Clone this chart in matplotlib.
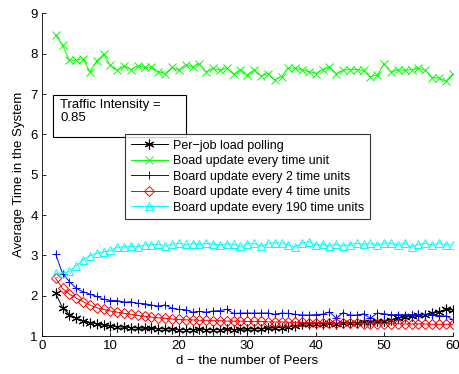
import matplotlib
matplotlib.use("Agg")
import matplotlib.pyplot as plt
from matplotlib.patches import Rectangle

plt.rcParams['font.family'] = ['Liberation Sans', 'DejaVu Sans']

# number of peers
d = list(range(2, 61))

# average time in system, one list per policy
per_job = [2.06, 1.70, 1.53, 1.44, 1.38, 1.33, 1.30, 1.27, 1.25,
           1.23, 1.22, 1.21, 1.20, 1.19, 1.19, 1.18, 1.18, 1.17, 1.16,
           1.16, 1.16, 1.17, 1.16, 1.16, 1.16, 1.17, 1.16, 1.17, 1.17,
           1.18, 1.18, 1.19, 1.20, 1.21, 1.23, 1.25, 1.30, 1.30, 1.31,
           1.31, 1.32, 1.31, 1.32, 1.33, 1.33, 1.35, 1.34, 1.36, 1.37,
           1.40, 1.44, 1.47, 1.49, 1.52, 1.53, 1.56, 1.60, 1.66, 1.65]
every_1 = [8.46, 8.21, 7.84, 7.84, 7.88, 7.55, 7.82, 7.99, 7.71,
           7.59, 7.70, 7.61, 7.70, 7.66, 7.67, 7.56, 7.51, 7.66, 7.59,
           7.73, 7.67, 7.75, 7.55, 7.64, 7.59, 7.65, 7.49, 7.61, 7.47,
           7.61, 7.45, 7.51, 7.35, 7.43, 7.65, 7.64, 7.60, 7.56, 7.51,
           7.61, 7.67, 7.51, 7.59, 7.61, 7.61, 7.59, 7.43, 7.48, 7.75,
           7.55, 7.60, 7.59, 7.61, 7.64, 7.60, 7.41, 7.40, 7.32, 7.49]
every_2 = [3.03, 2.55, 2.35, 2.18, 2.10, 2.04, 1.98, 1.91, 1.88,
           1.88, 1.84, 1.85, 1.81, 1.80, 1.77, 1.74, 1.77, 1.69, 1.66,
           1.65, 1.59, 1.61, 1.59, 1.62, 1.63, 1.66, 1.56, 1.57, 1.57,
           1.57, 1.57, 1.57, 1.54, 1.57, 1.56, 1.54, 1.52, 1.52, 1.53,
           1.54, 1.60, 1.44, 1.58, 1.52, 1.52, 1.55, 1.44, 1.57, 1.55,
           1.53, 1.53, 1.53, 1.53, 1.53, 1.54, 1.53, 1.50, 1.50, 1.41]
every_4 = [2.43, 2.18, 2.04, 1.94, 1.85, 1.77, 1.70, 1.66, 1.62,
           1.59, 1.56, 1.54, 1.51, 1.49, 1.47, 1.45, 1.44, 1.42, 1.41,
           1.40, 1.40, 1.39, 1.39, 1.38, 1.38, 1.37, 1.37, 1.37, 1.36,
           1.36, 1.36, 1.35, 1.35, 1.35, 1.34, 1.34, 1.34, 1.33, 1.33,
           1.33, 1.33, 1.32, 1.32, 1.32, 1.32, 1.31, 1.31, 1.31, 1.31,
           1.31, 1.30, 1.30, 1.30, 1.30, 1.30, 1.29, 1.29, 1.29, 1.29]
every_190 = [2.56, 2.56, 2.60, 2.74, 2.89, 2.99, 3.05, 3.09, 3.13,
             3.20, 3.21, 3.22, 3.21, 3.26, 3.26, 3.28, 3.23, 3.28,
             3.30, 3.27, 3.29, 3.27, 3.30, 3.28, 3.26, 3.29, 3.27,
             3.23, 3.28, 3.30, 3.23, 3.30, 3.31, 3.31, 3.26, 3.21, 3.31,
             3.34, 3.26, 3.28, 3.23, 3.28, 3.23, 3.26, 3.30, 3.28, 3.30,
             3.26, 3.31, 3.30, 3.26, 3.30, 3.20, 3.28, 3.30, 3.26, 3.31,
             3.26, 3.26]

labels = ['Per\u2212job load polling',
          'Boad update every time unit',
          'Board update every 2 time units',
          'Board update every 4 time units',
          'Board update every 190 time units']

fig = plt.figure(figsize=(4.59, 3.74), dpi=100)
ax = fig.add_axes([0.0915, 0.1016, 0.8945, 0.8624])

kw = dict(linewidth=0.7, markersize=6, markeredgewidth=0.7)
# matlab style asterisk marker
ax.plot(d, per_job, color='black', marker=(6, 2, 0), label=labels[0],
        linewidth=0.7, markersize=7, markeredgewidth=0.8)
ax.plot(d, every_1, color=(0, 1, 0), marker='x', label=labels[1], **kw)
ax.plot(d, every_2, color=(0, 0, 1), marker='+', label=labels[2], **kw)
ax.plot(d, every_4, color=(1, 0, 0), marker='D', markerfacecolor='none',
        label=labels[3], linewidth=0.7, markersize=5, markeredgewidth=0.7)
ax.plot(d, every_190, color=(0, 1, 1), marker='^', markerfacecolor='none',
        label=labels[4], **kw)

ax.set_xlim(0, 60)
ax.set_ylim(1, 9)
ax.set_xticks(range(0, 61, 10))
ax.set_yticks(range(1, 10))
ax.tick_params(direction='in', length=3, width=0.6, labelsize=9.5, pad=3)
for s in ['top', 'right']:
    ax.spines[s].set_visible(False)
for s in ['left', 'bottom']:
    ax.spines[s].set_linewidth(0.6)
ax.set_xlabel('d \u2212 the number of Peers', fontsize=9.5, labelpad=2)
ax.set_ylabel('Average Time in the System', fontsize=9.5, labelpad=4)

# annotation textbox
ax.add_patch(Rectangle((0.027, 0.617), 0.324, 0.130, transform=ax.transAxes,
                       fill=False, edgecolor='black', linewidth=0.8,
                       clip_on=False, zorder=4))
ax.text(0.044, 0.735, 'Traffic Intensity =\n0.85', transform=ax.transAxes,
        fontsize=9.5, va='top', ha='left', linespacing=1.15, zorder=4)

leg = ax.legend(loc='upper left', bbox_to_anchor=(0.202, 0.626),
                fontsize=9, frameon=True, fancybox=False, handlelength=3.0,
                handletextpad=0.4, labelspacing=0.28, borderpad=0.45,
                borderaxespad=0, numpoints=1)
leg.get_frame().set_edgecolor('black')
leg.get_frame().set_linewidth(0.8)
leg.set_zorder(5)

fig.savefig('out.png', dpi=100)
